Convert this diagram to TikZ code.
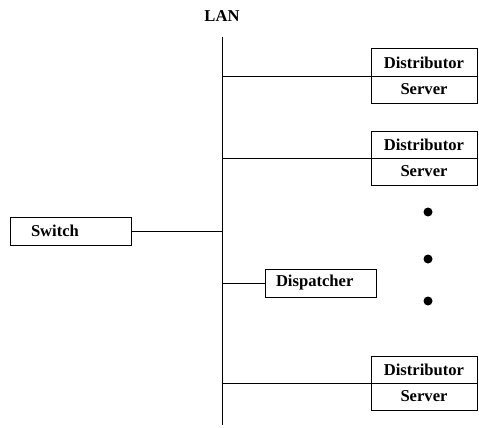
\documentclass[tikz,border=0pt]{standalone}
\usepackage{fontspec}
\setmainfont{Liberation Serif}
\usetikzlibrary{positioning}

\begin{document}
\begin{tikzpicture}[x=1pt, y=-1pt, every node/.style={font=\fontsize{16.6}{19}\selectfont\bfseries}]
    \tikzstyle{unit} = [rectangle, draw, line width=1pt, minimum width=106pt, minimum height=27pt, inner sep=0pt, outer sep=0pt]
    \tikzstyle{wire} = [line width=0.8pt]
    \tikzstyle{dot} = [circle, fill, inner sep=0pt, minimum size=9pt]

    \useasboundingbox (0,0) rectangle (479,428);

    % LAN bus
    \node (lan) at (222,16) {LAN};
    \coordinate (lantop) at (222,37);
    \coordinate (lanbot) at (222,425);
    \draw[wire] (lantop) -- (lanbot);

    % Distributor / Server pairs
    \node[unit] (d1) at (424,62.5) {Distributor};
    \node[unit, below=0pt of d1] (s1) {Server};
    \node[unit] (d2) at (424,144.5) {Distributor};
    \node[unit, below=0pt of d2] (s2) {Server};
    \node[unit] (d3) at (424,369.5) {Distributor};
    \node[unit, below=0pt of d3] (s3) {Server};

    % Switch and Dispatcher
    \node[unit, minimum width=121pt, minimum height=28pt, inner xsep=21pt, text width=79pt, align=left] (switch) at (70.5,231) {Switch};
    \node[unit, minimum width=111pt, minimum height=28pt, inner xsep=11pt, text width=89pt, align=left] (disp) at (320.5,283) {Dispatcher};

    % Dots
    \node[dot] (dot1) at (428,212) {};
    \node[dot] (dot2) at (428,259) {};
    \node[dot] (dot3) at (428,301) {};

    % Branches off the bus
    \draw[wire] (d1.south west) -- (d1.south west -| lantop);
    \draw[wire] (d2.south west) -- (d2.south west -| lantop);
    \draw[wire] (d3.south west) -- (d3.south west -| lantop);
    \draw[wire] (switch.east) -- (switch.east -| lantop);
    \draw[wire] (disp.west) -- (disp.west -| lantop);
\end{tikzpicture}
\end{document}
